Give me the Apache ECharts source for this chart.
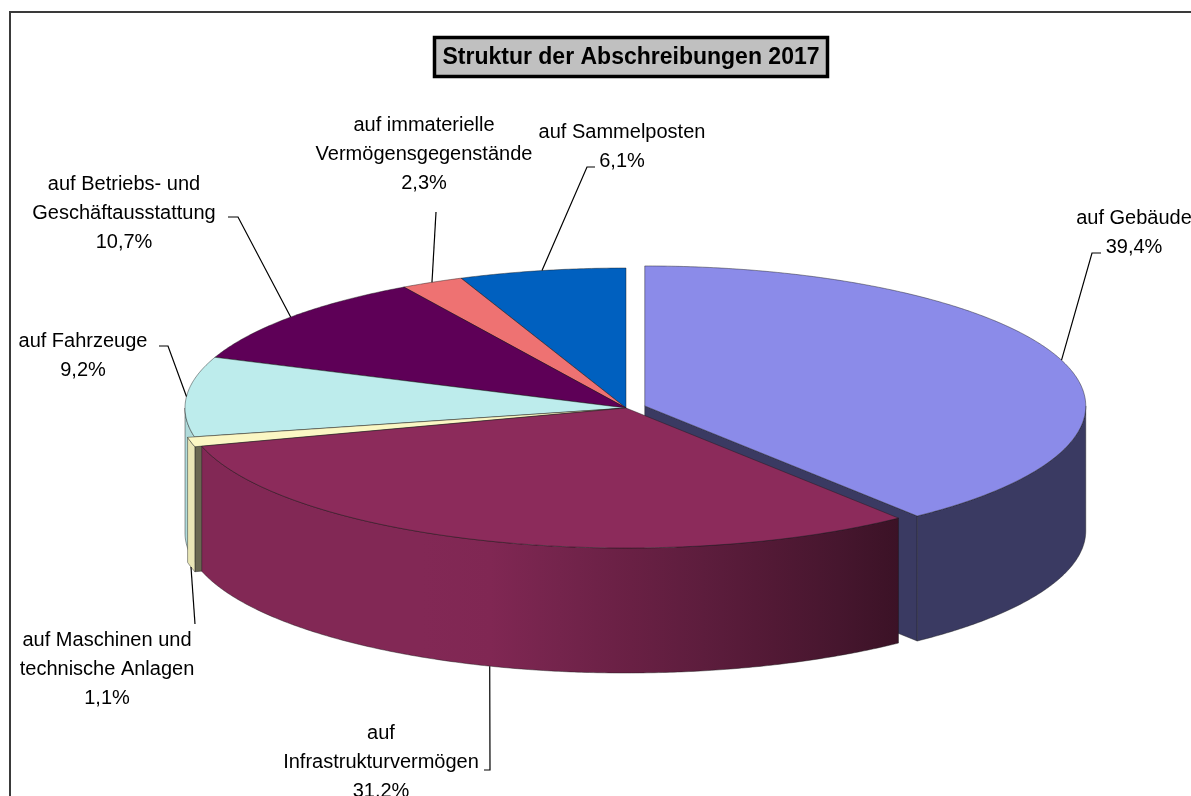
<!DOCTYPE html>
<html><head><meta charset="utf-8">
<script src="https://cdn.jsdelivr.net/npm/echarts@6/dist/echarts.min.js"></script>
<style>html,body{margin:0;padding:0;background:#fff;overflow:hidden}#c{width:1191px;height:796px}</style>
</head><body><div id="c"></div>
<script>
// ---- data ----
const titleText = 'Struktur der Abschreibungen 2017';
const categories = ['auf Gebäude', 'auf Infrastrukturvermögen', 'auf Maschinen und technische Anlagen', 'auf Fahrzeuge', 'auf Betriebs- und Geschäftausstattung', 'auf immaterielle Vermögensgegenstände', 'auf Sammelposten'];
const values = [39.4, 31.2, 1.1, 9.2, 10.7, 2.3, 6.1];
const labelLines = [['auf Gebäude'], ['auf', 'Infrastrukturvermögen'], ['auf Maschinen und', 'technische Anlagen'], ['auf Fahrzeuge'], ['auf Betriebs- und', 'Geschäftausstattung'], ['auf immaterielle', 'Vermögensgegenstände'], ['auf Sammelposten']];

// ---- style / layout ----
const colors = ['#8b8be9', '#8c2b5b', '#fbf7c4', '#bdecec', '#5e0057', '#ee7272', '#0060bf'];
const explode = [0.045, 0, 0.016, 0, 0, 0, 0];
const labelPos = [[1134, 218], [381, 733], [107, 640], [83, 341], [124, 184], [424, 125], [622, 132]];
const leaderPts = [[[1092, 253], [1101, 253]], [[490, 770], [484, 770]], [[195, 624]], [[168, 346], [159, 346]], [[238, 217], [228, 217]], [[436, 212]], [[587, 167], [595, 167]]];
const CX = 626, CY = 408, RX = 441, RY = 140, H = 125;
const LINE_H = 29;
const FONT = '"Liberation Sans", Arial, sans-serif';
const D = Math.PI / 180;

const total = values.reduce((s, v) => s + v, 0);
const starts = [], ends = [];
let acc = 0;
values.forEach(v => { starts.push(acc / total * 360); acc += v; ends.push(acc / total * 360); });
const mids = starts.map((s, i) => (s + ends[i]) / 2);
const order = mids.map((m, i) => [-Math.cos(m * D), i]).sort((p, q) => p[0] - q[0]);
const rank = [];
order.forEach((p, r) => { rank[p[1]] = r; });

function off(i) { const m = mids[i] * D, e = explode[i]; return [RX * e * Math.sin(m), -RY * e * Math.cos(m)]; }
function pt(i, deg, dz) { const o = off(i); return [CX + o[0] + RX * Math.sin(deg * D), CY + o[1] - RY * Math.cos(deg * D) + dz]; }
function ctr(i, dz) { const o = off(i); return [CX + o[0], CY + o[1] + dz]; }
function arc(i, a, b, dz) { const pts = []; const n = Math.max(2, Math.ceil(Math.abs(b - a) / 0.5)); for (let k = 0; k <= n; k++) pts.push(pt(i, a + (b - a) * k / n, dz)); return pts; }
function shade(hex, f) { const n = parseInt(hex.slice(1), 16); const r = (n >> 16) & 255, g = (n >> 8) & 255, b = n & 255; return 'rgb(' + Math.round(r * f) + ',' + Math.round(g * f) + ',' + Math.round(b * f) + ')'; }
function wallF(deg) { if (deg <= 142) return 0.42; if (deg >= 200) return 0.93; return 0.42 + 0.51 * (deg - 142) / 58; }
function fmt(v) { return v.toFixed(1).replace('.', ',') + '%'; }

const EDGE = 'rgba(25,25,25,0.55)';

function renderItem(params, api) {
  const i = params.dataIndex;
  const a = starts[i], b = ends[i];
  const col = colors[i];
  const base = rank[i] * 10;
  const children = [];
  // start cut face
  if (Math.sin(a * D) < -1e-6) {
    children.push({ type: 'polygon', z2: base + 1, shape: { points: [ctr(i, 0), pt(i, a, 0), pt(i, a, H), ctr(i, H)] }, style: { fill: shade(col, 0.42), stroke: EDGE, lineWidth: 0.8 } });
  }
  // end cut face
  if (Math.sin(b * D) > 1e-6) {
    children.push({ type: 'polygon', z2: base + 1, shape: { points: [ctr(i, 0), pt(i, b, 0), pt(i, b, H), ctr(i, H)] }, style: { fill: shade(col, 0.42), stroke: EDGE, lineWidth: 0.8 } });
  }
  // outer wall (front half)
  const w1 = Math.max(a, 90), w2 = Math.min(b, 270);
  if (w2 > w1) {
    const pts = arc(i, w1, w2, 0).concat(arc(i, w2, w1, H));
    const maxX = pt(i, w1, 0)[0], minX = pt(i, w2, 0)[0];
    const stops = [];
    const n = 12;
    for (let k = 0; k <= n; k++) {
      const th = w1 + (w2 - w1) * k / n;
      const x = pt(i, th, 0)[0];
      const o = maxX - minX > 0.5 ? (x - minX) / (maxX - minX) : k / n;
      stops.push({ offset: Math.min(1, Math.max(0, o)), color: shade(col, wallF(th)) });
    }
    stops.sort((p, q) => p.offset - q.offset);
    children.push({ type: 'polygon', z2: base + 2, shape: { points: pts }, style: { fill: new echarts.graphic.LinearGradient(0, 0, 1, 0, stops), stroke: EDGE, lineWidth: 0.8 } });
  }
  // top face
  children.push({ type: 'polygon', z2: base + 5, shape: { points: [ctr(i, 0)].concat(arc(i, a, b, 0)) }, style: { fill: col, stroke: EDGE, lineWidth: 0.8 } });
  // leader line
  const m = mids[i];
  const anchor = pt(i, m, Math.cos(m * D) < -0.1 ? H : 0);
  children.push({ type: 'polyline', z2: 1000, shape: { points: [anchor].concat(leaderPts[i]) }, style: { stroke: '#000', lineWidth: 1.2, fill: null } });
  // label
  const lines = labelLines[i].concat([fmt(api.value(0))]);
  children.push({ type: 'text', z2: 1001, x: labelPos[i][0], y: labelPos[i][1] - LINE_H / 2, style: { text: lines.join('\n'), fill: '#000', fontSize: 20, fontFamily: FONT, lineHeight: LINE_H, align: 'center', verticalAlign: 'top' } });
  return { type: 'group', children: children };
}

const chart = echarts.init(document.getElementById('c'), null, { renderer: 'canvas' });
chart.setOption({
  backgroundColor: '#ffffff',
  animation: false,
  graphic: [
    { type: 'rect', shape: { x: 10, y: 12, width: 1400, height: 1000 }, style: { fill: 'none', stroke: '#3a3a3a', lineWidth: 2 }, silent: true },
    { type: 'rect', shape: { x: 434.5, y: 37.5, width: 393, height: 39 }, style: { fill: '#c0c0c0', stroke: '#000', lineWidth: 3.5 }, silent: true },
    { type: 'text', x: 631, y: 57.5, style: { text: titleText, fill: '#000', font: 'bold 23px "Liberation Sans", Arial, sans-serif', align: 'center', verticalAlign: 'middle' }, silent: true }
  ],
  series: [{
    type: 'custom',
    coordinateSystem: 'none',
    silent: true,
    renderItem: renderItem,
    data: values.map((v, i) => ({ name: categories[i], value: [v] }))
  }]
});
</script>
</body></html>
